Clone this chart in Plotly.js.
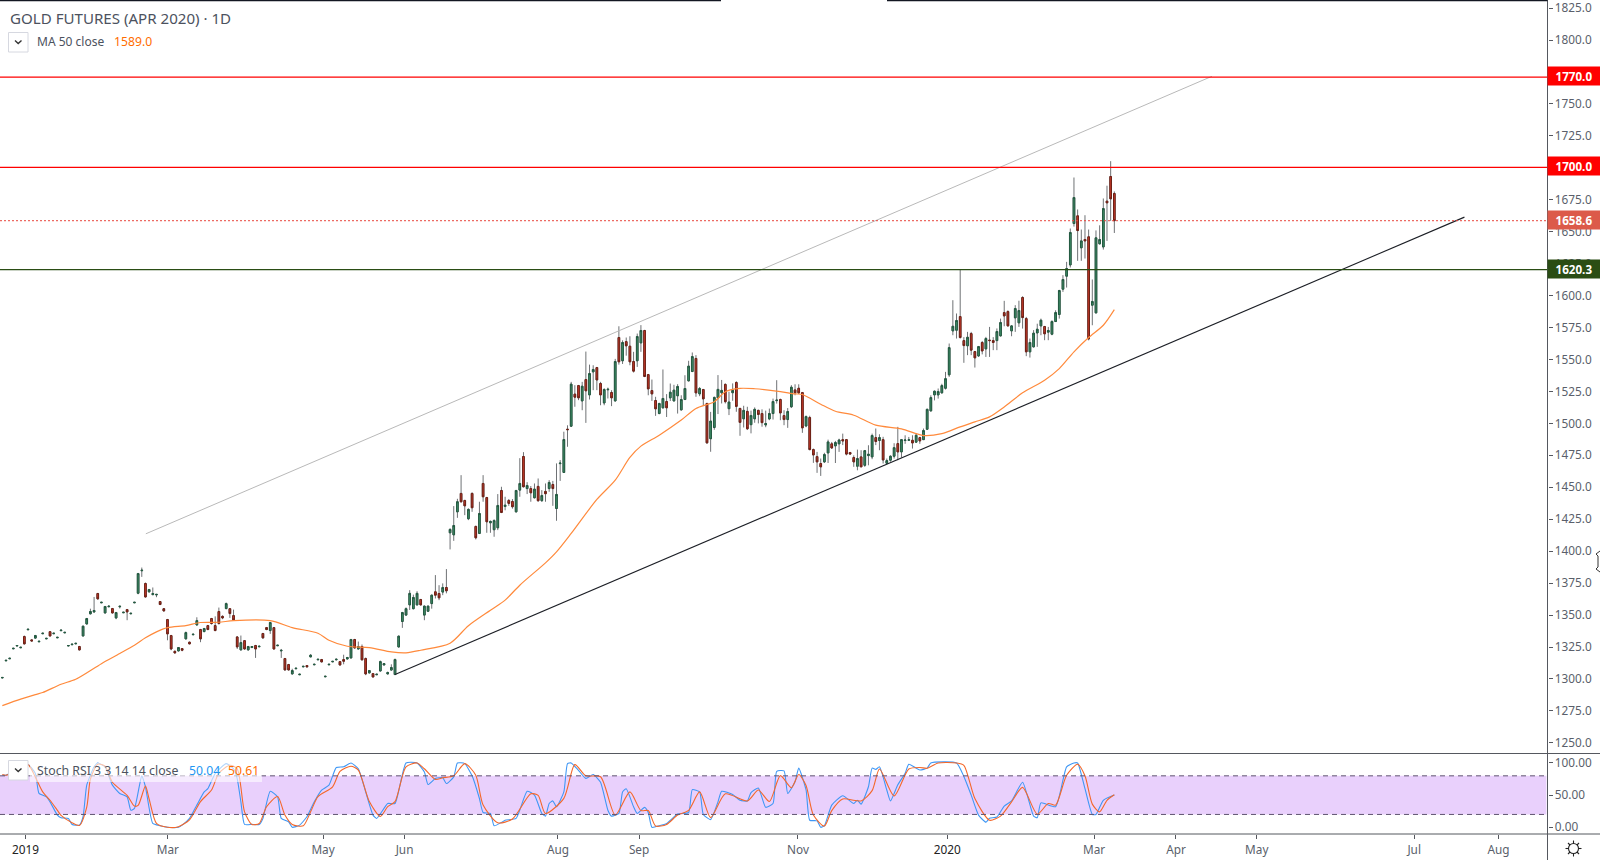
<!DOCTYPE html>
<html><head><meta charset="utf-8">
<script src="https://cdn.plot.ly/plotly-3.0.1.min.js"></script>
<style>html,body{margin:0;padding:0;background:#fff;overflow:hidden}#chart{width:1600px;height:860px}</style>
</head><body><div id="chart"></div>
<script>
const opens=[1300.8,1314.2,1315.8,1323.6,1325.8,1324.4,1333.2,1338.5,1330.6,1332,
1329.1,1335.4,1331.4,1337,1335.4,1332.2,1337.8,1336.1,1325.8,1326.8,
1327.5,1325.4,1333.7,1343.1,1351,1352.5,1366.9,1359.6,1351.7,1356.5,
1355.1,1347.8,1356.5,1351.8,1354.3,1351,1359.6,1367.1,1384.7,1374.7,
1368.2,1366,1365.8,1360.6,1355,1346.5,1334,1321.7,1322,1323.8,
1331.4,1328.8,1334.6,1342.3,1338.7,1337.1,1341.8,1347.3,1341.8,1352.8,
1349,1355.1,1355,1349.6,1332.9,1322.8,1330,1322.8,1324.6,1326.2,
1325.2,1335.6,1340.2,1337.9,1340.2,1326,1322,1316,1311.3,1304,
1308,1303.3,1309.5,1310.5,1317.3,1311.1,1315,1315.2,1301.7,1311.1,
1313.4,1315,1313.6,1315.2,1315.7,1316.5,1330.9,1323.5,1325.4,1316,
1304.8,1304.2,1303.3,1306.3,1311,1304,1307,1303.5,1325.1,1345,
1350,1358,1355,1358,1362.2,1350,1353,1359,1368.2,1366.9,
1368,1371.6,1414.4,1412.8,1430.8,1445.2,1439.7,1425.4,1445.2,1419.4,
1413.9,1453,1442,1422.2,1416.8,1418.3,1447.5,1435,1439.7,1438.9,
1430.8,1447.8,1474.1,1449,1449,1441.8,1450.7,1439.5,1446.8,1449,
1452.2,1433.4,1468.5,1461.6,1495.5,1497.8,1522.9,1529.6,1517.6,1534.3,
1522.3,1540.3,1543.7,1531.2,1516,1526.3,1524.2,1517.6,1567.2,1549,
1564,1560.4,1548.4,1549,1563,1572.7,1538.2,1525.7,1517.9,1507.7,
1512.2,1517.1,1520,1517.6,1521.6,1510.6,1518.7,1533.3,1540.6,1550.8,
1523.1,1526.5,1515.6,1488,1496.8,1520,1524,1530.5,1511.5,1524,
1532,1511.7,1503.6,1509.4,1499,1503.6,1510.2,1507.7,1498.8,1503.5,
1507.7,1517.8,1518.7,1506.1,1503,1513,1526.2,1527.5,1524.1,1498,
1504.6,1479.5,1474,1468.6,1469.9,1476.9,1484,1482.4,1484,1487.3,
1487.3,1477.2,1473.3,1466.5,1473.8,1467.2,1474.8,1473.8,1488.9,1486.6,
1487.3,1468.8,1471.2,1474.3,1484.2,1477.7,1486.6,1486.8,1486.8,1485.3,
1488.9,1487.3,1495.4,1509.8,1522.3,1522.3,1523.9,1527.5,1538,1572.4,
1572.9,1583.6,1564.8,1560.7,1570.3,1556.2,1552.8,1563.3,1558.3,1565.2,
1564.8,1564.8,1568.5,1586.7,1587.5,1572.4,1582.6,1578.7,1598.5,1582,
1556,1559.9,1570.8,1576.3,1575.8,1571.4,1569.8,1579.7,1585.2,1605,
1615.2,1624,1656.4,1662.4,1637.4,1643.9,1646,1592.5,1586.5,1640.5,
1638.1,1673.9,1693.2,1679.9];
const highs=[1301.2,1314.6,1316.2,1324,1326.2,1324.8,1334,1338.9,1330.8,1334.5,
1329.5,1335.8,1331.8,1337.5,1335.8,1332.6,1338.2,1336.5,1326.2,1327.2,
1327.9,1325.9,1341.8,1347.8,1355,1364.2,1367.4,1360,1357.2,1357.7,
1355.6,1352.5,1357,1352.2,1354.8,1351.4,1360,1383,1387.2,1375.5,
1370.5,1371.6,1366.2,1361,1355.5,1347,1334.5,1322.1,1325,1324.2,
1337.1,1329.2,1335,1348.3,1339.2,1340,1342.3,1347.8,1349,1355.9,
1349.8,1359.8,1355.5,1354.3,1333.4,1334,1330.5,1325.9,1325.8,1326.7,
1325.6,1336.1,1340.7,1344.7,1340.7,1326.4,1323.5,1316.5,1311.8,1308,
1308.4,1303.7,1309.9,1310.9,1319.5,1311.5,1315.4,1315.7,1302.1,1311.5,
1313.8,1316,1314.1,1319,1317.3,1331.4,1331.4,1329.3,1327,1316.8,
1307,1304.7,1303.7,1314.4,1312.5,1305.8,1311.5,1316,1334,1352.5,
1356,1369.5,1366,1368.7,1362.7,1357.5,1357.5,1366,1381.3,1373.4,
1374.8,1386,1418,1435.3,1441,1459.5,1440.2,1433.5,1446,1419.9,
1438.7,1459.5,1442.5,1424,1425,1444.7,1450.4,1442.6,1440.8,1440.8,
1448,1472.8,1477.5,1454,1451,1453,1456.9,1447.8,1453,1455.6,
1455,1468.7,1471.3,1493.5,1498.5,1532.5,1529.9,1530.1,1532.5,1556.2,
1546,1545.5,1544.2,1532.5,1527.5,1528,1526,1550.5,1576,1565,
1567.2,1568.2,1556,1570.3,1576.9,1573.2,1538.7,1534.3,1520.8,1516.1,
1542.2,1522.9,1531.2,1530.2,1530.7,1522,1537.7,1549,1555.5,1553.4,
1528.5,1527,1516.1,1509,1521,1537.8,1534,1531.3,1524.8,1531.3,
1533,1512.2,1513.8,1513,1510,1512.5,1510.7,1511,1510,1511.6,
1519.4,1533.8,1519.4,1510.3,1512,1529.9,1530.6,1530.6,1524.6,1506.2,
1506,1480.3,1477.7,1472.5,1477,1487.3,1485.5,1486.3,1488,1492,
1487.8,1477.7,1475,1479.5,1479,1479.2,1482.9,1492,1496,1491.5,
1489.5,1472.5,1475,1484.5,1497.3,1487.8,1490.7,1489.4,1490.7,1492.5,
1489.5,1496,1511.5,1522,1525.7,1527.3,1531,1540.3,1562.5,1596.4,
1586,1620.4,1567.5,1571.6,1571.6,1556.7,1560.6,1564.5,1567.7,1575.5,
1567.5,1574.3,1582,1595.9,1588.5,1576.8,1592.5,1596,1599.5,1583.3,
1566.4,1573,1578,1582,1576.3,1575.5,1580.7,1588.5,1604.5,1616,
1626.4,1652.5,1692.4,1667.4,1651.7,1662.9,1651.7,1612.6,1651,1655,
1676,1686,1705.2,1681.5];
const lows=[1300.8,1314.2,1315.8,1323.6,1325.8,1324.4,1327,1338.5,1329.6,1331.5,
1329.1,1335.4,1331.4,1333.2,1335.4,1332.2,1337.8,1336.1,1325.8,1326.8,
1327.5,1322.3,1333.2,1342.6,1350.5,1351.7,1362.2,1359.6,1351.2,1356.5,
1351.2,1346.8,1355.2,1351.8,1346,1351,1359.6,1366.3,1379.9,1363.7,
1367.7,1365.6,1364,1357.8,1352.8,1330.3,1322.5,1320,1321.5,1321.7,
1331,1327.1,1334.6,1341.8,1328.8,1336.6,1338.2,1342.6,1337.4,1342.6,
1346.8,1354.6,1347.8,1345.7,1323.5,1322.3,1323,1322.3,1324.3,1316.5,
1325.2,1331.4,1338.2,1335.3,1323,1326,1316.5,1306.6,1306.6,1303.5,
1308,1303.3,1309.5,1309.1,1317,1311.1,1315,1313,1301.7,1311.1,
1313.4,1314.6,1310.5,1311.5,1315.3,1316,1323.8,1323,1314.5,1303,
1304.3,1301.2,1303.3,1305.8,1310.7,1303.6,1306.6,1303,1324.6,1340,
1349.5,1354,1354.5,1357.5,1357.5,1346,1352.5,1355,1363,1361.7,
1365.6,1367,1401.4,1408.1,1426.1,1438,1428.2,1424.3,1430.8,1409.2,
1413.4,1438.7,1414.4,1414.4,1411.3,1416.5,1429.8,1432,1435.5,1433.3,
1430.3,1442.6,1449.9,1444.7,1438.7,1441.3,1438.7,1438.7,1438.7,1446.5,
1435.5,1423.8,1455,1461.2,1481.7,1497.2,1513,1518.2,1510.3,1500.4,
1518.7,1526,1526,1514.2,1514.2,1519.5,1513.5,1517.1,1546,1546.5,
1553,1545.5,1539.8,1544.2,1556,1536.2,1522,1517.6,1505.9,1507.2,
1511.6,1505,1517.5,1517.1,1507.7,1510.1,1518.2,1532.8,1540.1,1520.8,
1521.3,1513.7,1484,1477.8,1495,1507.3,1515.6,1515.6,1506.5,1517.7,
1509.1,1490.3,1496.8,1494.8,1492.2,1500.5,1500,1497.4,1497,1502.5,
1503,1515.5,1502.5,1498.6,1496.5,1512,1522,1523,1492.6,1497,
1479,1469.1,1461.3,1458.9,1469,1469,1480,1469,1477.7,1483,
1475,1475.5,1466,1463.3,1466,1466,1467.2,1472,1483,1479,
1468.6,1468.3,1470,1472.5,1471.2,1473.3,1484,1486.5,1480.3,1485,
1484,1487,1495,1509.3,1518,1519.4,1523.4,1526.5,1536.4,1569,
1566.4,1566.4,1547.4,1553.4,1553.4,1543.7,1552,1554,1552,1552,
1557.3,1557.3,1568,1576,1575.8,1568.2,1571.6,1575.5,1574.2,1552.6,
1551.5,1559.4,1559.9,1569,1565.1,1565.1,1569,1579.4,1582,1602.9,
1606.3,1622,1654,1627.2,1627.2,1629,1565,1576.8,1586,1640,
1636,1642.8,1658.5,1649];
const closes=[1301.2,1314.6,1316.2,1324,1326.2,1324.8,1327.5,1338.9,1329.8,1334,
1329.5,1335.8,1331.8,1333.7,1335.8,1332.6,1338.2,1336.5,1326.2,1327.2,
1327.9,1322.8,1341.3,1347.3,1352.8,1353.6,1362.7,1360,1356.7,1356.9,
1351.7,1352,1356.9,1352.2,1352.5,1351.4,1360,1382.5,1385.1,1364.2,
1370,1366.9,1366.2,1358.3,1353.3,1335.3,1323.5,1320.4,1324.6,1322.5,
1336.3,1327.5,1335,1345.7,1331.4,1339.5,1338.7,1343.4,1337.9,1343.4,
1347.8,1359,1351.2,1346.2,1325.1,1328.5,1323.5,1325.4,1325.4,1323.5,
1325.6,1332.2,1338.7,1344.2,1323.5,1326.4,1322.4,1307.1,1307.1,1306.6,
1308.4,1303.7,1309.9,1309.5,1318.6,1311.5,1315.4,1313.4,1302.1,1311.5,
1313.8,1315.4,1311,1313.9,1316.8,1330.9,1324.3,1325.4,1315,1304,
1306.6,1301.6,1303.7,1313.6,1312,1305,1309,1315.2,1333.5,1352,
1355,1367,1363.8,1367,1358,1357,1357,1365.6,1365.6,1363.5,
1371.6,1369,1417,1420.1,1438.7,1438.7,1435.5,1432.7,1434,1410.5,
1429.5,1442.6,1423,1423.3,1424,1435.8,1430.3,1436,1437.4,1434.8,
1447.5,1453,1450.4,1451.4,1445.7,1448.6,1439.5,1443.6,1445,1453.8,
1449,1444.4,1468.9,1487.4,1495.1,1530.7,1520.5,1520,1529.1,1525.5,
1539,1542.2,1534,1522.3,1526.5,1526.7,1520,1548.4,1548.2,1563.3,
1560.7,1548.2,1540.9,1568,1572.7,1536.7,1527,1523.1,1511.4,1515.6,
1519.5,1512.2,1524.4,1526,1528.9,1518.7,1527.3,1544.8,1552.3,1523.9,
1527.3,1519.2,1484.8,1501.8,1520.3,1526.6,1525.8,1517,1516.7,1525.8,
1513.3,1500.8,1510.2,1495.8,1506.2,1511,1507,1500.6,1499.9,1507.7,
1517.1,1518.2,1508.2,1503,1509.3,1528.3,1523.9,1523.9,1496.5,1505.3,
1479.5,1475.3,1469.9,1466,1475.6,1485.5,1480.8,1485,1487,1486.3,
1476,1476,1469.9,1472.5,1466,1478.7,1475.9,1490.5,1485.8,1488.9,
1471.4,1470.9,1474.3,1481,1477.7,1487.3,1487,1487.2,1484.7,1490.7,
1486.3,1494.4,1511,1520.2,1525.2,1524.9,1529.6,1535,1559.3,1576,
1580.5,1567.2,1560.9,1567.4,1557.3,1551.3,1560.1,1556.7,1566.4,1564.8,
1563.3,1571.9,1578.9,1584.1,1576.3,1576.3,1589.9,1588.3,1582.8,1556,
1563.3,1570.6,1573.7,1580.7,1570.1,1572.7,1579.7,1586.7,1604,1612.6,
1621.2,1649.4,1676.7,1650.9,1642.8,1642.8,1566.1,1595.4,1645.2,1643.9,
1668.1,1672.6,1675.7,1658.6];

const maIdx=[0,5,9,11,16,20,27,32,36,39,42,45,50,54,59,63,73,79,86,89,94,100,106,110,114,122,127,133,137,141,148,151,155,162,167,171,174,179,185,189,194,197,201,205,212,216,218,223,227,232,238,245,251,256,261,265,269,273,278,284,288,292,296,300,303];
const maVal=[1279.2,1284.2,1287.8,1289.4,1295.9,1299.8,1312,1319.9,1326.4,1332.2,1336.9,1340.2,1341.8,1344.2,1344.4,1345.7,1345.7,1340.2,1335.8,1330.3,1325.6,1324.6,1321.2,1320.5,1322.5,1328,1341.7,1353.8,1361.7,1373.4,1390.9,1399.5,1413.9,1440.5,1455.6,1473.4,1482.2,1490.8,1502.6,1511.7,1517,1524.8,1527.4,1527.1,1524.9,1523.1,1522.6,1515,1509.5,1506.4,1498.6,1495.7,1490.5,1492,1497.3,1501.2,1505.1,1512.9,1523.9,1533.8,1542.9,1556,1567.2,1576.8,1589];

const kIdx=[0,1,4,7,9,10,12,13,15,16,18,19,21,22,23,25,26,28,30,32,34,35,36,38,39,41,43,45,48,49,51,53,55,56,58,61,63,64,65,66,68,70,71,73,75,76,78,79,81,83,85,87,89,91,93,95,97,99,101,102,104,105,107,110,113,115,116,118,120,121,123,124,126,128,130,131,133,134,136,137,140,143,145,147,148,149,150,151,153,154,155,157,159,161,163,165,166,168,169,170,172,173,175,176,177,179,181,184,187,188,190,191,193,195,196,199,201,203,204,206,208,210,211,213,214,216,217,219,220,222,223,224,226,229,232,233,234,236,237,238,239,241,242,244,246,247,250,252,253,260,262,264,266,268,269,271,273,275,278,281,282,283,287,290,292,293,295,297,298,300,303];
const kVal=[81,81,91,97.6,83.6,52.6,47.4,39.6,19,14.8,13.8,4.5,3.4,16.4,65.5,94,100,94,65.5,52.6,47.4,26.7,29.3,80,62.9,6,2.4,0,0,3.4,13.8,34.5,55,60,83.6,99,91,75.8,39.6,4.5,4.5,4.5,13.8,56,47.4,13.8,8.6,0,3.4,16.4,39.6,57.7,65.5,93,94,100,91,55,19,13.8,29.3,37,37,100,100,86,66.5,75.8,77,68,78.4,100,99,80,44.8,23,21.5,2.4,7.6,11,13.8,56,50,21.5,17.4,37,41,32,55,99,100,88.4,76,82,70,26.6,17.4,21.5,55,60,32,21.5,31,23,0,2.4,6,20.5,23,58.6,55,20,12,39.6,56,51,42,41,54,61,31,37,87,87.6,52.6,70.7,92,58,11,10,0,2.4,34.5,49,37,42,36,63,92,90,94,58,41,66,84,98,89,92,100,100,79,50,19,8,14,16,33,41,70,17.4,15,38,32,94,100,100,60,20,20,42,50.04];
const dIdx=[0,1,4,7,9,11,13,15,16,19,21,23,24,26,28,30,34,36,37,39,40,42,45,48,51,54,57,59,62,64,66,68,70,72,75,77,79,82,84,86,90,92,95,97,100,103,105,107,110,113,115,118,120,123,126,129,131,135,139,144,146,148,153,156,159,163,167,171,174,176,178,181,184,187,190,193,197,203,206,209,212,215,217,219,221,224,226,229,234,237,239,243,247,250,252,255,260,262,265,269,272,275,278,282,285,287,290,293,295,297,299,301,303];
const dVal=[82,81,88,97.4,78,55,42,26.4,18.6,7.2,3,31.5,75,98,95,70,49.7,33,34,64,44,6,0,1,11.6,40,58,84,96.4,91,24,4.5,6,32,47.8,19,4.5,2.4,24,47.8,63,87,95,89,40,16.8,32,40,94,100,91,74.4,77,80,99,81,34.5,7,12.9,52,49.7,21.5,45,97.4,80,78.6,19,55,26,26,2,4.5,19,26.4,55,15,52,41,58,40,80.3,61.5,82,65,19,2,26,44,41,57,90.7,48.8,90.7,93,91.7,100,100,96.4,44.6,11,17.4,39.6,62,20.4,37,34.5,81,98,80,36,24,42,50.61];

const xTickVals=[6.3,45.1,87.4,109.6,151.4,173.5,216.8,257.5,297.5,319.8,341.8,384.7,407.7];
const xTickText=['<span style="color:#222">2019</span>','Mar','May','Jun','Aug','Sep','Nov','<span style="color:#222">2020</span>','Mar','Apr','May','Jul','Aug'];
const levelPos=[1770.9,1700.3,1620.3];
const levelColors=['#ff0000','#ff0000','#2a4d14'];
const lastPrice=1658.6;
const blackTrendX=[107,398.4], blackTrendY=[1303.5,1661.4];
const grayTrendX=[39.1,329.6], grayTrendY=[1413.6,1771.6];
const stochBand=[20,80];
const priceBoxes=[['1770.0',1770.9,'#ff0000'],['1700.0',1700.3,'#ff0000'],['1658.6',1658.6,'#dc5a4a'],['1620.3',1620.3,'#2a4d14']];

const W=1600,H=860,PX=1547.5;
const px=v=>v/W, py=v=>1-v/H;
const idx=opens.map((_,i)=>i);
const xr=[-0.635,421.03];
const font='"Noto Sans","Open Sans",sans-serif';

const traces=[];
traces.push({type:'candlestick',x:idx,open:opens,high:highs,low:lows,close:closes,whiskerwidth:0,
  increasing:{line:{color:'#6f7275',width:1},fillcolor:'#6f7275'},decreasing:{line:{color:'#6f7275',width:1},fillcolor:'#6f7275'},
  hoverinfo:'skip',showlegend:false,xaxis:'x',yaxis:'y'});
traces.push({type:'candlestick',x:idx,open:opens,close:closes,
  high:opens.map((o,i)=>Math.max(o,closes[i])),low:opens.map((o,i)=>Math.min(o,closes[i])),whiskerwidth:0,
  increasing:{line:{color:'#235a41',width:1},fillcolor:'#43946c'},decreasing:{line:{color:'#6e2015',width:1},fillcolor:'#d23c2c'},
  hoverinfo:'skip',showlegend:false,xaxis:'x',yaxis:'y'});
const line=(x,y,color,width,dash,ya,smooth)=>({type:'scatter',mode:'lines',x,y,line:{color,width,dash:dash||'solid',shape:smooth?'spline':'linear',smoothing:smooth||0},hoverinfo:'skip',showlegend:false,xaxis:'x',yaxis:ya||'y'});
traces.push(line(maIdx,maVal,'#ff8a3c',1.2,null,'y',0.8));
traces.push(line(grayTrendX,grayTrendY,'#b9b9b9',1));
traces.push(line(blackTrendX,blackTrendY,'#1c1f26',1.1));
levelPos.forEach((v,i)=>traces.push(line(xr,[v,v],levelColors[i],1.2)));
traces.push(line(xr,[lastPrice,lastPrice],'#e8453c',1,'2px,2px'));
traces.push(line(kIdx,kVal,'#3f97f5',1.1,null,'y2',0.5));
traces.push(line(dIdx,dVal,'#f4672a',1.1,null,'y2',0.7));

const AX='#55585f';
const shapes=[
 {type:'rect',xref:'x',yref:'y2',x0:xr[0],x1:xr[1]-0.3,y0:stochBand[0],y1:stochBand[1],fillcolor:'#e9d0fc',line:{width:0},layer:'below'},
];
stochBand.forEach(v=>shapes.push({type:'line',xref:'x',yref:'y2',x0:xr[0],x1:xr[1]-0.3,y0:v,y1:v,line:{color:'#5f5470',width:1,dash:'5px,4px'},layer:'above'}));
const pline=(x0,y0,x1,y1,c,w)=>({type:'line',xref:'paper',yref:'paper',x0:px(x0),x1:px(x1),y0:py(y0),y1:py(y1),line:{color:c,width:w||1},layer:'above'});
shapes.push(pline(PX,0,PX,860,AX));
shapes.push(pline(0,753.5,1600,753.5,AX));
shapes.push(pline(0,834,1600,834,AX));
shapes.push(pline(0,0.5,721,0.5,'#131722',1.5));
shapes.push(pline(887,0.5,PX,0.5,'#131722',1.5));
const prect=(x0,y0,x1,y1,fill,lc)=>({type:'rect',xref:'paper',yref:'paper',x0:px(x0),x1:px(x1),y0:py(y0),y1:py(y1),fillcolor:fill,line:{color:lc||'rgba(0,0,0,0)',width:lc?1:0},layer:'above'});
shapes.push(prect(30,763,262,782,'rgba(255,255,255,0.6)'));
shapes.push(prect(8.5,32.5,28,52,'#ffffff','#d6d8e0'));
shapes.push(prect(8.5,760.5,28,780,'#ffffff','#d6d8e0'));
const ppath=(pts,c,w)=>({type:'path',xref:'paper',yref:'paper',path:'M'+pts.map(p=>px(p[0])+','+py(p[1])).join(' L'),line:{color:c,width:w||1},layer:'above'});
shapes.push(ppath([[15,40.5],[18.2,43.5],[21.5,40.5]],'#333',1.4));
shapes.push(ppath([[15,768.5],[18.2,771.5],[21.5,768.5]],'#333',1.4));
// gear icon
shapes.push({type:'circle',xref:'paper',yref:'paper',x0:px(1568.5),x1:px(1578.5),y0:py(843.5),y1:py(853.5),line:{color:'#222',width:1.1},layer:'above'});
[[1573.5,840.5,1573.5,843.5],[1573.5,853.5,1573.5,856.5],[1565.5,848.5,1568.5,848.5],[1578.5,848.5,1581.5,848.5],[1568,843,1570,845],[1577,852,1579,854],[1579,843,1577,845],[1570,852,1568,854]]
 .forEach(r=>shapes.push(pline(r[0],r[1],r[2],r[3],'#222',1.1)));
// cursor artefact
shapes.push(ppath([[1600,551],[1596,554],[1598,556],[1598,567],[1596,569],[1600,572]],'#333',1));

const ann=(x,y,text,color,size)=>({xref:'paper',yref:'paper',x:px(x),y:py(y),text,showarrow:false,xanchor:'left',yanchor:'middle',font:{family:font,color,size},borderpad:0});
const annotations=[
 ann(9,17.5,'GOLD FUTURES (APR 2020) · 1D','#4c525e',15.1),
 ann(35.5,41,'MA 50 close','#4c525e',12),
 ann(113,41,'1589.0','#ff6d00',12.2),
 ann(35.5,770.5,'Stoch RSI 3 3 14 14 close','#4c525e',12.3),
 ann(188,770.5,'50.04','#2196f3',12.2),
 ann(227,770.5,'50.61','#ff6d00',12.2),
];
priceBoxes.forEach(b=>annotations.push({xref:'paper',yref:'y',x:(PX+0.5+26)/W,y:b[1],yshift:1,xanchor:'center',yanchor:'middle',width:52,height:18,bgcolor:b[2],showarrow:false,align:'center',borderpad:0,
 text:'<b>'+b[0]+'</b>',font:{family:font,color:'#fff',size:11.6}}));

const tf={family:font,color:'#5a5f6b',size:11.8};
const layout={width:W,height:H,margin:{l:0,r:0,t:0,b:0,pad:0},paper_bgcolor:'#fff',plot_bgcolor:'#fff',showlegend:false,boxgap:0.36,
 xaxis:{domain:[0,PX/W],range:xr,type:'linear',anchor:'y2',side:'bottom',showgrid:false,zeroline:false,showline:false,fixedrange:true,
   rangeslider:{visible:false},ticks:'outside',ticklen:4,tickcolor:AX,tickmode:'array',tickvals:xTickVals,ticktext:xTickText,ticklabelstandoff:1,tickfont:tf},
 yaxis:{domain:[(H-753.5)/H,1],range:[1241.7,1831.3],anchor:'x',side:'right',showgrid:false,zeroline:false,showline:false,fixedrange:true,
   ticks:'outside',ticklen:4,tickcolor:AX,tick0:1250,dtick:25,tickformat:'.1f',tickfont:tf,ticklabeloverflow:'allow'},
 yaxis2:{domain:[(H-834)/H,(H-753.5)/H],range:[-10.4,114.7],anchor:'x',side:'right',showgrid:false,zeroline:false,showline:false,fixedrange:true,
   ticks:'outside',ticklen:4,tickcolor:AX,tickmode:'array',tickvals:[0,50,100],ticktext:['0.00','50.00','100.00'],tickfont:tf,ticklabeloverflow:'allow'},
 shapes,annotations};
Plotly.newPlot('chart',traces,layout,{displayModeBar:false,staticPlot:true});
</script></body></html>
